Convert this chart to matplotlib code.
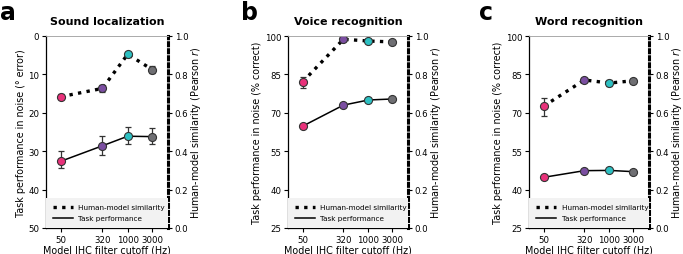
import matplotlib
matplotlib.use("Agg")
import matplotlib.pyplot as plt
from matplotlib.lines import Line2D
import numpy as np

plt.rcParams['font.family'] = ['DejaVu Sans']

cutoffs = [50, 320, 1000, 3000]
cutoff_labels = ['50', '320', '1000', '3000']
colors = ['#e8317a', '#7b4ea1', '#2cc0c2', '#6f6f73']

titles = ['Sound localization', 'Voice recognition', 'Word recognition']
letters = ['a', 'b', 'c']
left_labels = ['Task performance in noise (° error)',
               'Task performance in noise (% correct)',
               'Task performance in noise (% correct)']

# Task performance (left axis)
loc_task = [32.6, 28.6, 26.1, 26.2]
loc_task_lo = [29.9, 26.0, 23.8, 23.9]
loc_task_hi = [34.5, 30.9, 28.0, 28.0]
voice_task = [64.8, 73.0, 75.0, 75.4]
voice_task_lo = [64.3, 72.6, 74.6, 75.0]
voice_task_hi = [65.3, 73.4, 75.4, 75.8]
word_task = [44.8, 47.4, 47.5, 47.0]
word_task_lo = [44.5, 47.1, 47.2, 46.7]
word_task_hi = [45.1, 47.7, 47.8, 47.3]

# Human-model similarity (right axis)
loc_sim = [0.684, 0.727, 0.905, 0.825]
loc_sim_lo = [0.670, 0.710, 0.895, 0.808]
loc_sim_hi = [0.698, 0.744, 0.915, 0.842]
voice_sim = [0.762, 0.983, 0.974, 0.969]
voice_sim_lo = [0.731, 0.975, 0.966, 0.961]
voice_sim_hi = [0.785, 0.991, 0.982, 0.977]
word_sim = [0.635, 0.771, 0.755, 0.767]
word_sim_lo = [0.582, 0.763, 0.740, 0.759]
word_sim_hi = [0.677, 0.779, 0.770, 0.775]

left_ticks = [[0, 10, 20, 30, 40, 50], [25, 40, 55, 70, 85, 100], [25, 40, 55, 70, 85, 100]]
left_lims = [(50, 0), (25, 100), (25, 100)]

tasks = [(loc_task, loc_task_lo, loc_task_hi),
         (voice_task, voice_task_lo, voice_task_hi),
         (word_task, word_task_lo, word_task_hi)]
sims = [(loc_sim, loc_sim_lo, loc_sim_hi),
        (voice_sim, voice_sim_lo, voice_sim_hi),
        (word_sim, word_sim_lo, word_sim_hi)]

W, H = 683, 255
fig = plt.figure(figsize=(W / 100, H / 100), dpi=100)

ax_px = [(46, 168), (288, 408), (529, 649)]
top_px, bot_px = 37, 229
letter_x = [0, 241, 479]

for i in range(3):
    l, r = ax_px[i]
    ax = fig.add_axes([l / W, 1 - bot_px / H, (r - l) / W, (bot_px - top_px) / H])
    ax2 = ax.twinx()
    ax.set_zorder(ax2.get_zorder() + 1)
    ax.patch.set_visible(False)

    ax.set_xscale('log')
    ax.set_xlim(25.5, 6100)
    ax.set_xticks(cutoffs)
    ax.set_xticklabels(cutoff_labels)
    ax.xaxis.set_minor_locator(matplotlib.ticker.NullLocator())

    t, tlo, thi = tasks[i]
    s, slo, shi = sims[i]

    ax.plot(cutoffs, t, color='black', lw=1.1, zorder=2)
    ax2.plot(cutoffs, s, color='black', lw=2.4, ls=(0, (1, 1.6)), zorder=2)
    for j in range(4):
        ax.errorbar(cutoffs[j], t[j], yerr=[[t[j] - tlo[j]], [thi[j] - t[j]]],
                    fmt='none', ecolor='#333333', elinewidth=0.9, capsize=2, capthick=0.9, zorder=3)
        ax.plot(cutoffs[j], t[j], 'o', ms=5.8, mfc=colors[j], mec='#333333', mew=0.8, zorder=4)
        ax2.errorbar(cutoffs[j], s[j], yerr=[[s[j] - slo[j]], [shi[j] - s[j]]],
                     fmt='none', ecolor='#333333', elinewidth=0.9, capsize=2, capthick=0.9, zorder=3)
        ax2.plot(cutoffs[j], s[j], 'o', ms=5.8, mfc=colors[j], mec='#333333', mew=0.8, zorder=4)

    ax.set_ylim(*left_lims[i])
    ax.set_yticks(left_ticks[i])
    ax2.set_ylim(0, 1)
    ax2.set_yticks([0, 0.2, 0.4, 0.6, 0.8, 1.0])
    ax2.set_yticklabels(['0.0', '0.2', '0.4', '0.6', '0.8', '1.0'])

    for a in (ax, ax2):
        a.tick_params(labelsize=6.2, length=3, width=0.8, pad=1.8)
        a.spines['top'].set_color('#aaaaaa')
        a.spines['top'].set_linewidth(0.6)
    ax.spines['right'].set_visible(False)
    ax2.spines['left'].set_visible(False)
    ax2.spines['right'].set_linestyle((0, (1, 1.3)))
    ax2.spines['right'].set_linewidth(2.2)
    ax2.spines['bottom'].set_visible(False)
    ax.spines['left'].set_linewidth(0.9)
    ax.spines['bottom'].set_linewidth(0.9)

    ax.set_xlabel('Model IHC filter cutoff (Hz)', fontsize=6.9, labelpad=0.8)
    ax.set_ylabel(left_labels[i], fontsize=6.9, labelpad=2)
    ax2.set_ylabel('Human-model similarity (Pearson $r$)', fontsize=6.9, labelpad=0.5)
    ax.set_title(titles[i], fontsize=8, fontweight='bold', pad=9)

    handles = [Line2D([], [], color='black', lw=2.4, ls=(0, (1, 1.6))),
               Line2D([], [], color='black', lw=1.1)]
    leg = ax.legend(handles, ['Human-model similarity', 'Task performance'],
                    loc='lower left', bbox_to_anchor=(0, 0, 1, 0.16), mode='expand',
                    fontsize=5.2, frameon=True, fancybox=False, borderpad=0.9,
                    handlelength=2.8, labelspacing=0.7, borderaxespad=0)
    leg.get_frame().set_facecolor('#f2f2f2')
    leg.get_frame().set_edgecolor('none')
    leg.get_frame().set_alpha(1)

    fig.text(letter_x[i] / W, 1 - 0.5 / H, letters[i],
             fontsize=17, fontweight='bold', va='top', ha='left')

fig.savefig('out.png', dpi=100)
